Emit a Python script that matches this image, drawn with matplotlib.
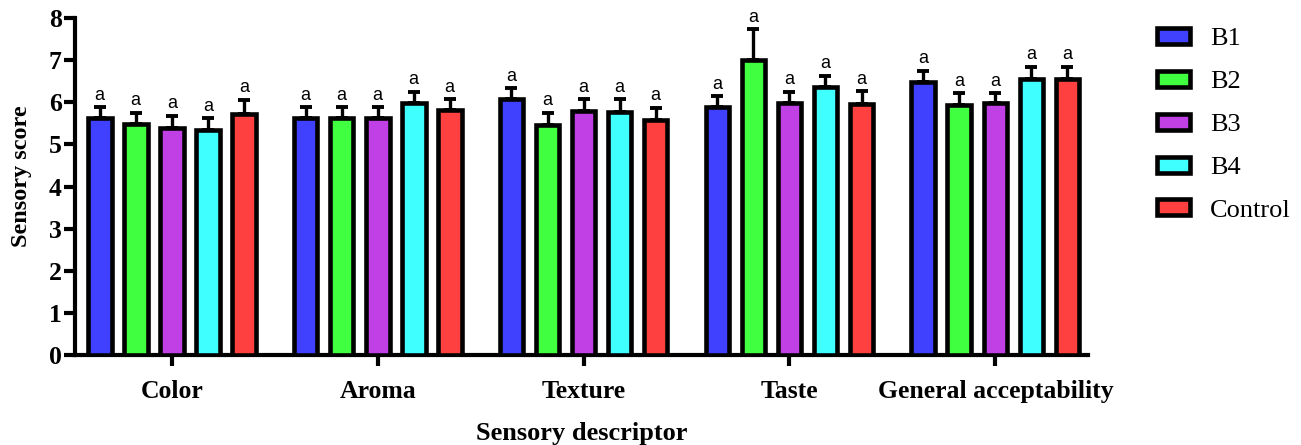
import numpy as np
import matplotlib
matplotlib.use("Agg")
import matplotlib.pyplot as plt
from matplotlib.patches import Patch

categories = ["Color", "Aroma", "Texture", "Taste", "General acceptability"]
series = ["B1", "B2", "B3", "B4", "Control"]
means = {
    "B1":      [5.63, 5.63, 6.08, 5.88, 6.48],
    "B2":      [5.49, 5.63, 5.47, 7.00, 5.94],
    "B3":      [5.40, 5.63, 5.80, 5.98, 5.98],
    "B4":      [5.34, 5.98, 5.78, 6.37, 6.56],
    "Control": [5.73, 5.82, 5.58, 5.96, 6.56],
}
errors = {
    "B1":      [0.26, 0.26, 0.26, 0.26, 0.27],
    "B2":      [0.26, 0.26, 0.28, 0.74, 0.28],
    "B3":      [0.28, 0.26, 0.28, 0.27, 0.24],
    "B4":      [0.28, 0.27, 0.30, 0.26, 0.28],
    "Control": [0.33, 0.26, 0.29, 0.31, 0.28],
}
letters = ["a"] * 5
colors = ["#4040FF", "#40FF40", "#C040E6", "#40FFFF", "#FF4040"]

plt.rcParams["font.family"] = ["Liberation Serif"]
fig = plt.figure(figsize=(13.01, 4.45), dpi=100)
ax = fig.add_axes([75/1301, 1-355/445, (1088-75)/1301, (355-18)/445])

x = np.arange(len(categories))
slot = 0.175
width = 0.115
for i, s in enumerate(series):
    pos = x + (i - 2) * slot
    ax.bar(pos, means[s], width, color=colors[i], edgecolor="black",
           linewidth=3.3, zorder=3)
    ax.errorbar(pos, means[s], yerr=[np.zeros(len(x)), errors[s]], fmt="none",
                ecolor="black", elinewidth=2.4, capsize=4.5, capthick=2.8, zorder=2)
    for p, m, e, l in zip(pos, means[s], errors[s], letters):
        ax.text(p, m + e + 0.08, l, ha="center", va="bottom",
                fontsize=13, family="Liberation Sans")

ax.set_xlim(-0.47, 4.45)
ax.set_ylim(0, 8)
ax.set_yticks(range(0, 9))
ax.set_xticks(x)
ax.set_xticklabels(categories, fontsize=18.5, fontweight="bold")
for t in ax.get_yticklabels():
    t.set_fontsize(18.5)
    t.set_fontweight("bold")
ax.spines["top"].set_visible(False)
ax.spines["right"].set_visible(False)
ax.spines["left"].set_linewidth(3)
ax.spines["bottom"].set_linewidth(3)
ax.tick_params(axis="y", length=8, width=3, pad=1.5)
ax.tick_params(axis="x", length=8, width=3, pad=10)
ax.set_ylabel("Sensory score", fontsize=17.5, fontweight="bold")
ax.yaxis.set_label_coords(-43/1013, 0.53)
ax.set_xlabel("Sensory descriptor", fontsize=19, fontweight="bold", labelpad=14)

handles = [Patch(facecolor=c, edgecolor="black", linewidth=3.3) for c in colors]
fig.legend(handles, series, loc="upper left", bbox_to_anchor=(1157/1301, 1-28/445),
           frameon=False, fontsize=19, handlelength=1.25, handleheight=0.55,
           labelspacing=0.78, handletextpad=0.75, borderpad=0, borderaxespad=0)

fig.savefig("out.png", dpi=100)
